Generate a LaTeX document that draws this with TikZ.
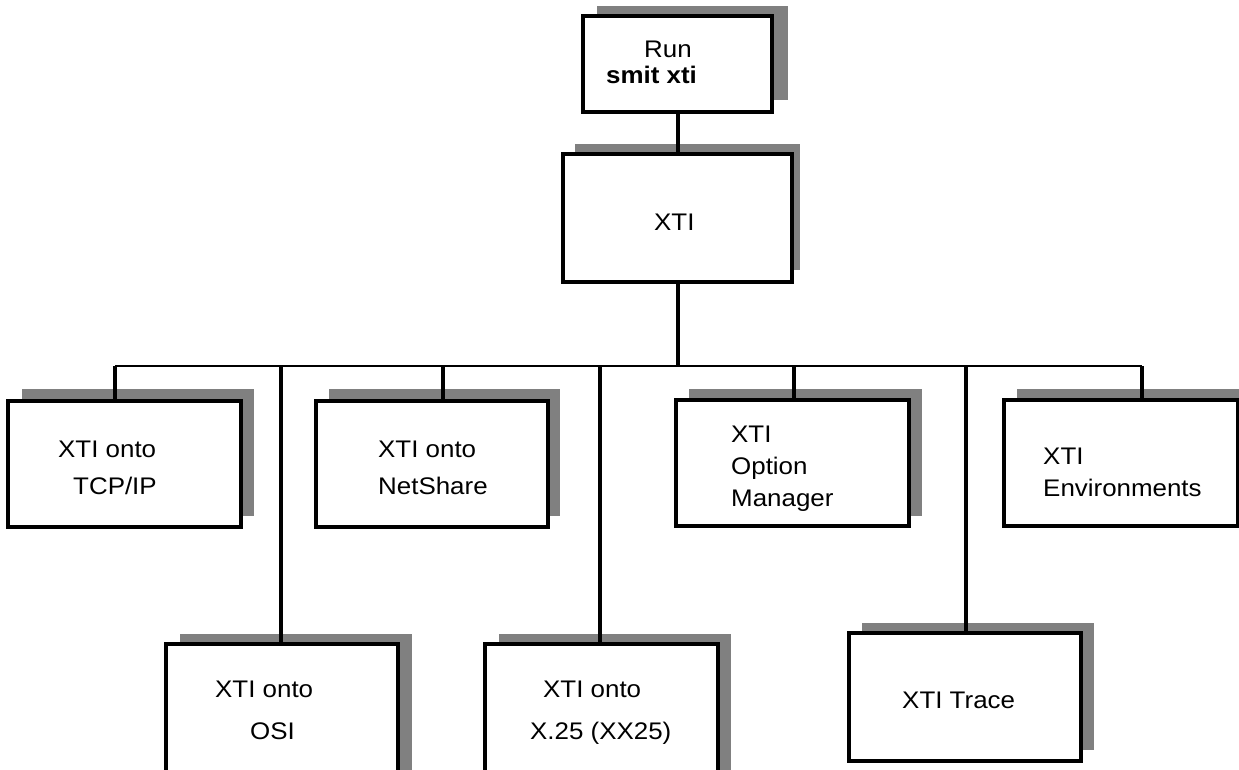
\documentclass[tikz,border=0pt]{standalone}
\usepackage{fontspec}
\setmainfont{Liberation Sans}[FakeStretch=1.08]
\begin{document}
\begin{tikzpicture}[x=1pt,y=-1pt,
  box/.style={draw=black,fill=white,line width=3.6pt},
  shadowbox/.style={fill=black!50,draw=none},
  wire/.style={line width=3.2pt},
  lbl/.style={anchor=base west,inner sep=0pt,font=\fontsize{24}{28}\selectfont}]
\clip (0,0) rectangle (1239,770);
\fill[white] (0,0) rectangle (1239,770);
% shadows
\fill[shadowbox] (597,6) rectangle (788,100);
\fill[shadowbox] (575,144) rectangle (800,270);
\fill[shadowbox] (22,389) rectangle (254,516);
\fill[shadowbox] (329,389) rectangle (560,516);
\fill[shadowbox] (689,389) rectangle (922,516);
\fill[shadowbox] (1017,389) rectangle (1250,516);
\fill[shadowbox] (180,634) rectangle (412,800);
\fill[shadowbox] (499,634) rectangle (731,800);
\fill[shadowbox] (862,623) rectangle (1094,750);
% boxes
\path[box] (583,16) rectangle (772,112);
\path[box] (563,154) rectangle (792,282);
\path[box] (8,401) rectangle (241,527);
\path[box] (316,401) rectangle (548,527);
\path[box] (676,400) rectangle (909,526);
\path[box] (1004,400) rectangle (1238,526);
\path[box] (166,644) rectangle (398,800);
\path[box] (485,644) rectangle (718,800);
\path[box] (849,633) rectangle (1081,761);
% anchor coordinates
\coordinate (runS) at (678,112);
\coordinate (xtiN) at (678,154);
\coordinate (xtiS) at (678,282);
\coordinate (busC) at (678,366);
\coordinate (busL) at (115,366);
\coordinate (busR) at (1142,366);
\coordinate (tcpN) at (115,401);
\coordinate (osiN) at (281,644);
\coordinate (netN) at (443,401);
\coordinate (xN) at (600,644);
\coordinate (optN) at (794,400);
\coordinate (trN) at (966,633);
\coordinate (envN) at (1142,400);
% connectors
\draw[wire] (runS) -- (xtiN);
\draw[wire] (xtiS) -- (busC);
\draw[line width=2.6pt] (busL) -- (busR);
\foreach \n in {tcpN,osiN,netN,xN,optN,trN,envN}
  \draw[wire] (busL -| \n) -- (\n);
% labels
\node[lbl] (t1) at (644,58) {Run};
\node[lbl] (t2) at (606,84) {\bfseries smit xti};
\node[lbl] (t3) at (654,230) {XTI};
\node[lbl] (t4) at (58,457) {XTI onto};
\node[lbl] (t5) at (73,494) {TCP/IP};
\node[lbl] (t6) at (378,457) {XTI onto};
\node[lbl] (t7) at (378,494) {NetShare};
\node[lbl] (t8) at (731,442) {XTI};
\node[lbl] (t9) at (731,474) {Option};
\node[lbl] (t10) at (731,506) {Manager};
\node[lbl] (t11) at (1043,464) {XTI};
\node[lbl] (t12) at (1043,496) {Environments};
\node[lbl] (t13) at (215,697) {XTI onto};
\node[lbl] (t14) at (250,739) {OSI};
\node[lbl] (t15) at (543,697) {XTI onto};
\node[lbl] (t16) at (530,739) {X.25 (XX25)};
\node[lbl] (t17) at (902,708) {XTI Trace};
\end{tikzpicture}
\end{document}
